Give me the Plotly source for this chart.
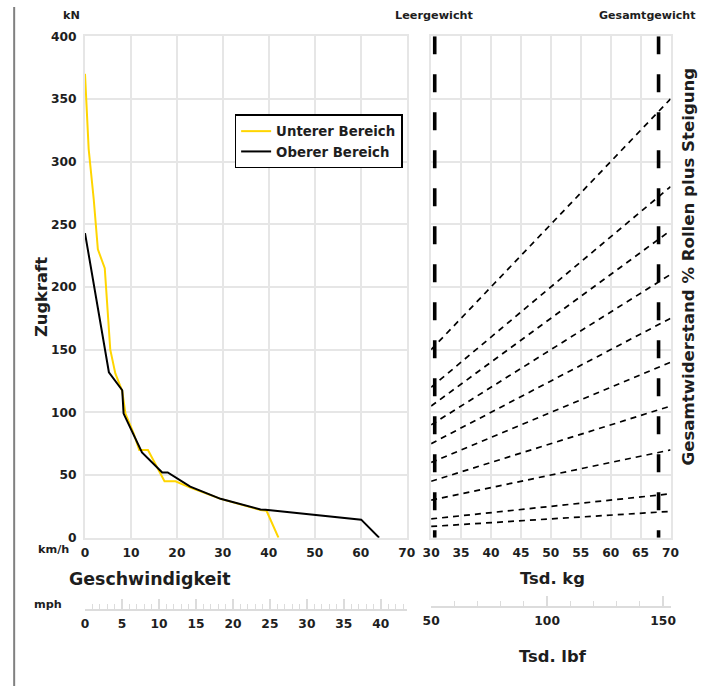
import plotly.graph_objects as go

W, H = 708, 693
# The captured page is offset by the 8px body margin and shrunk slightly (~0.977);
# target positions below are given in final picture pixels and converted.
K = 0.977
OFF = 8

# ---------------- data ----------------
# Left panel: tractive force (kN) vs speed (km/h)
lower_speed = [0, 0.3, 0.8, 1.9, 2.8, 4.3, 5.5, 6.6, 8.1, 8.8, 10.6, 11.8, 13.7, 17.3, 19.7, 22.9, 29.5, 38.2, 39.5, 42.1]
lower_force = [370, 350, 310, 270, 230, 215, 150, 131, 117, 99, 83, 70, 70, 45, 45, 40, 31, 22, 21.5, 0]

upper_speed = [0, 1.9, 3.7, 5.2, 8.1, 8.4, 12.4, 16.8, 18.0, 22.9, 29.5, 38.2, 39.3, 60.1, 64.0]
upper_force = [243, 202, 166, 132, 117.6, 99, 68, 52, 52, 40.8, 31, 22.5, 22.2, 14.4, 0]

# Right panel: resistance lines (kN) between 30 and 70 Tsd. kg
weight_ends = [30, 70]
resistance_start = [150, 120, 105, 90, 75, 60, 45, 30, 15, 9]
resistance_end = [350, 280, 245, 210, 175, 140, 105, 70, 35, 21]

empty_weight = 30.6
total_weight = 68.0
force_range = [0, 400]

KMH_PER_MPH = 1.609344
speed_range = [0, 70]
weight_range = [30, 70]
lbf_range = [50, 153.2]

FONT = "DejaVu Sans"
TXT = "#1e1e1e"
GRID = "#e6e6e6"
YELLOW = "#FFD500"


def px(x):
    return (x / K - OFF) / W


def py(y):
    return 1 - (y / K - OFF) / H


def fs(s):
    return s / K


fig = go.Figure()

fig.add_trace(go.Scatter(x=lower_speed, y=lower_force, mode="lines", name="Unterer Bereich",
                         line=dict(color=YELLOW, width=2), xaxis="x", yaxis="y"))
fig.add_trace(go.Scatter(x=upper_speed, y=upper_force, mode="lines", name="Oberer Bereich",
                         line=dict(color="black", width=2), xaxis="x", yaxis="y"))

for s, e in zip(resistance_start, resistance_end):
    fig.add_trace(go.Scatter(x=weight_ends, y=[s, e], mode="lines", showlegend=False,
                             line=dict(color="black", width=1.7, dash="6px,5px"),
                             xaxis="x2", yaxis="y2", hoverinfo="skip"))

for wv in [empty_weight, total_weight]:
    fig.add_trace(go.Scatter(x=[wv, wv], y=[force_range[1], force_range[0]], mode="lines",
                             showlegend=False, line=dict(color="black", width=3.6, dash="18px,20px"),
                             xaxis="x2", yaxis="y2", hoverinfo="skip"))

# invisible helper traces for ruler axes
fig.add_trace(go.Scatter(x=[0], y=[0], mode="markers", marker=dict(opacity=0), showlegend=False,
                         xaxis="x3", yaxis="y3", hoverinfo="skip"))
fig.add_trace(go.Scatter(x=[lbf_range[0]], y=[0], mode="markers", marker=dict(opacity=0), showlegend=False,
                         xaxis="x4", yaxis="y4", hoverinfo="skip"))

tickfont = dict(family=FONT, size=fs(12), color=TXT, weight="bold")
ydom = [py(537), py(37)]
ldom = [px(84), px(406.5)]
rdom = [px(431), px(671)]

common = dict(showgrid=True, gridcolor=GRID, gridwidth=2, zeroline=False,
              showline=True, linecolor=GRID, linewidth=2, mirror=True, ticks="",
              tickfont=tickfont)

fig.update_layout(
    width=W, height=H, margin=dict(l=0, r=0, t=0, b=0),
    paper_bgcolor="white", plot_bgcolor="white",
    xaxis=dict(domain=ldom, range=speed_range, dtick=10, anchor="y", ticklabelstandoff=3, **common),
    yaxis=dict(domain=ydom, range=force_range, dtick=50, anchor="x", ticklabelstandoff=4, **common),
    xaxis2=dict(domain=rdom, range=weight_range, dtick=5, anchor="y2", ticklabelstandoff=3, **common),
    yaxis2=dict(domain=ydom, range=force_range, dtick=50, anchor="x2", showticklabels=False,
                **{k: v for k, v in common.items() if k != "tickfont"}),
    xaxis3=dict(domain=ldom, range=[speed_range[0] / KMH_PER_MPH, speed_range[1] / KMH_PER_MPH],
                anchor="y3", dtick=5, tick0=0, showgrid=False, zeroline=False,
                showline=True, linecolor="#dcdcdc", linewidth=2,
                ticks="inside", ticklen=10, tickwidth=1.5, tickcolor="#dcdcdc",
                minor=dict(dtick=1, tick0=0, ticks="inside", ticklen=5, tickwidth=1, tickcolor="#dcdcdc",
                           showgrid=False),
                tickfont=tickfont, ticklabelstandoff=2),
    yaxis3=dict(domain=[py(608), py(596)], visible=False, range=[0, 1], anchor="x3"),
    xaxis4=dict(domain=rdom, range=lbf_range, anchor="y4", dtick=50, tick0=50,
                showgrid=False, zeroline=False,
                showline=True, linecolor="#dcdcdc", linewidth=2,
                ticks="inside", ticklen=10, tickwidth=1.5, tickcolor="#dcdcdc",
                minor=dict(dtick=10, tick0=50, ticks="inside", ticklen=5, tickwidth=1, tickcolor="#dcdcdc",
                           showgrid=False),
                tickfont=tickfont, ticklabelstandoff=2),
    yaxis4=dict(domain=[py(605), py(593)], visible=False, range=[0, 1], anchor="x4"),
    legend=dict(x=px(234), y=py(115), xanchor="left", yanchor="top",
                bgcolor="white", bordercolor="black", borderwidth=1.5,
                font=dict(family=FONT, size=fs(13), color=TXT, weight="bold"),
                itemwidth=30, tracegroupgap=0),
    showlegend=True,
)


def ann(text, x, y, size, xanchor="center", angle=0, weight="bold"):
    fig.add_annotation(text=text, x=px(x), y=py(y), xref="paper", yref="paper",
                       xanchor=xanchor, yanchor="middle", showarrow=False, textangle=angle,
                       font=dict(family=FONT, size=fs(size), color=TXT, weight=weight))


ann("kN", 70, 16, 11)
ann("Zugkraft", 40, 297, 16, angle=-90)
ann("km/h", 52, 549, 11)
ann("Geschwindigkeit", 66, 578, 17, xanchor="left")
ann("mph", 47, 604, 11)
ann("Tsd. kg", 553, 578, 16)
ann("Tsd. lbf", 553, 655, 16)
ann("Leergewicht", 434, 16, 11)
ann("Gesamtgewicht", 699, 16, 10.8, xanchor="right")
ann("Gesamtwiderstand % Rollen plus Steigung", 689, 266, 16.2, angle=-90)

# left border of the page (full height)
fig.add_shape(type="line", xref="paper", yref="paper", x0=px(13), x1=px(13), y0=0, y1=1,
              line=dict(color="#808080", width=2))

fig.write_html("out.html")
